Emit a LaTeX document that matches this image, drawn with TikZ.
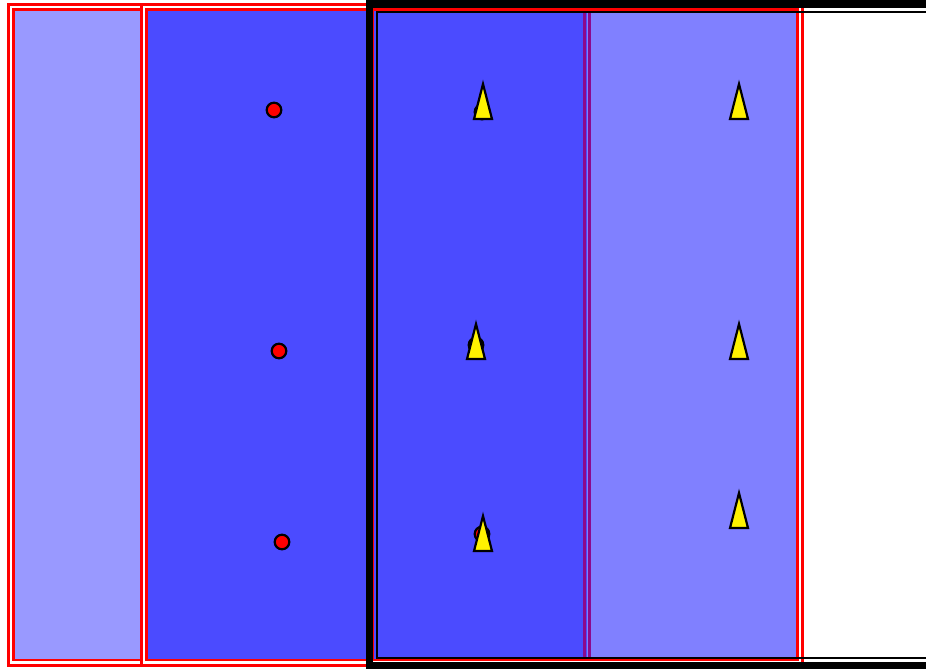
\documentclass[tikz,border=0pt]{standalone}
\usepackage{xcolor}
\usepackage{tikz}
\definecolor{PaleBand}{HTML}{9999FF}
\definecolor{DeepBand}{HTML}{4B4BFF}
\definecolor{MidBand}{HTML}{8080FF}
\definecolor{SeamPurple}{HTML}{8C0A8C}

\begin{document}
\begin{tikzpicture}[
	x=1pt, y=-1pt,
	redframe/.style={draw=red, double=white, line width=2.7pt, double distance=2.5pt},
	seam/.style={draw=SeamPurple, line width=2.6pt},
	dot/.style={fill=red, draw=black, line width=2.2pt},
	spike/.style={fill=yellow, draw=black, line width=2.2pt, line join=miter}
]
\useasboundingbox (0,0) rectangle (926,669);
\clip (0,0) rectangle (926,669);

% left bands
\filldraw[redframe, fill=PaleBand] (11,6.9) rectangle (143.75,662.7);
\filldraw[redframe, fill=DeepBand] (143.75,6.9) rectangle (370,662.7);

% right bands
\fill[DeepBand] (370,6.9) rectangle (587,662.7);
\fill[MidBand] (587,6.9) rectangle (800,662.7);
\draw[seam] (584.2,9.5) -- (584.2,660.5);
\draw[seam] (589.6,9.5) -- (589.6,660.5);
\draw[redframe] (370,6.9) rectangle (800,662.7);

% black frame
\draw[line width=2.2pt] (377,11.8) rectangle (940,658);
\draw[line width=7.5pt] (369.5,4) rectangle (940,666);

% markers
\foreach \cx/\cy in {274/110, 279/351, 282/542, 482/112, 476/345, 482/534}
	\draw[dot] (\cx,\cy) circle[radius=7.3pt];
\foreach \tx/\ty in {483/84, 476/324, 483/516, 739/84, 739/324, 739/493}
	\draw[spike] (\tx,\ty) -- ++(-9,35) -- ++(18,0) -- cycle;
\end{tikzpicture}
\end{document}
